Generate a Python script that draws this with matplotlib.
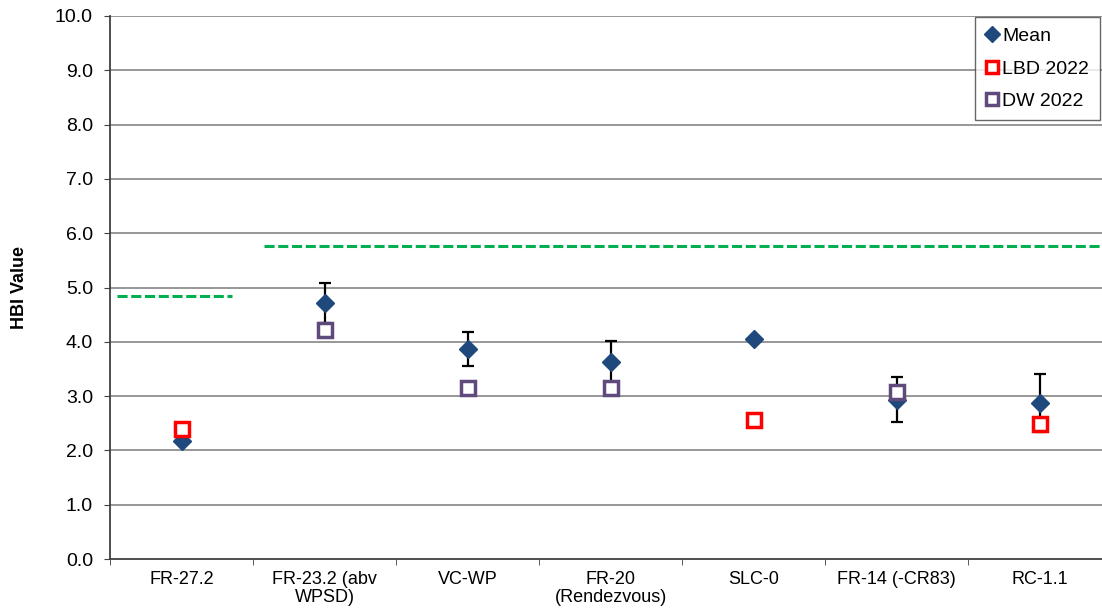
import matplotlib
matplotlib.use("Agg")
import matplotlib.pyplot as plt
import numpy as np

categories = ["FR-27.2", "FR-23.2 (abv\nWPSD)", "VC-WP", "FR-20\n(Rendezvous)", "SLC-0", "FR-14 (-CR83)", "RC-1.1"]
mean_vals = [2.17, 4.71, 3.87, 3.63, 4.05, 2.93, 2.87]
err_lo = [0.0, 0.37, 0.32, 0.38, 0.0, 0.41, 0.53]
err_hi = [0.0, 0.37, 0.31, 0.38, 0.0, 0.42, 0.54]
lbd_vals = [2.39, None, None, None, 2.56, None, 2.49]
dw_vals = [None, 4.22, 3.15, 3.15, None, 3.08, None]
thresh1 = 4.84  # FR-27.2 segment
thresh2 = 5.76  # rest
yticks = [0, 1, 2, 3, 4, 5, 6, 7, 8, 9, 10]

plt.rcParams['font.family'] = ['Liberation Sans', 'DejaVu Sans']

fig = plt.figure(figsize=(11.02, 6.13), dpi=100)
W, H = 1102, 613
ax = fig.add_axes([110 / W, 1 - 559 / H, (1111 - 110) / W, (559 - 16) / H])

x = np.arange(len(categories))
ax.set_xlim(-0.5, len(categories) - 0.5)
ax.set_ylim(0, 10)

for y in yticks[1:]:
    ax.axhline(y, color="#7a7a7a", lw=1.1, zorder=1)

# thresholds
ax.plot([-0.45, 0.35], [thresh1, thresh1], color="#00B050", lw=2.2, ls=(0, (3.3, 1.2)), zorder=2)
ax.plot([0.58, 6.5], [thresh2, thresh2], color="#00B050", lw=2.2, ls=(0, (3.3, 1.2)), zorder=2)

# error bars
has_err = [i for i in range(len(x)) if err_lo[i] > 0]
ax.errorbar(x[has_err], np.array(mean_vals)[has_err],
            yerr=[np.array(err_lo)[has_err], np.array(err_hi)[has_err]],
            fmt="none", ecolor="black", elinewidth=1.6, capsize=4.3, capthick=1.6, zorder=3)

ax.plot(x, mean_vals, ls="none", marker="D", ms=9, color="#1F497D", zorder=4, label="Mean")
lx = [i for i, v in enumerate(lbd_vals) if v is not None]
ax.plot(lx, [lbd_vals[i] for i in lx], ls="none", marker="s", ms=10, mfc="white",
        mec="#FF0000", mew=2.5, zorder=5, label="LBD 2022")
dx = [i for i, v in enumerate(dw_vals) if v is not None]
ax.plot(dx, [dw_vals[i] for i in dx], ls="none", marker="s", ms=10, mfc="white",
        mec="#604A7B", mew=2.5, zorder=5, label="DW 2022")

ax.set_yticks(yticks)
ax.set_yticklabels([f"{v:.1f}" for v in yticks], fontsize=14)
ax.set_xticks(x)
ax.set_xticklabels(categories, fontsize=13, linespacing=1.05)
ax.tick_params(axis="x", length=0, pad=9)
ax.set_xticks(np.arange(-0.5, len(categories), 1), minor=True)
ax.tick_params(axis="x", which="minor", length=4.3, direction="out", color="#404040")
ax.tick_params(axis="y", length=4.3, direction="out", color="#404040", pad=8)

for s in ["top", "right"]:
    ax.spines[s].set_visible(False)
ax.spines["left"].set_color("#404040")
ax.spines["bottom"].set_color("#404040")
ax.spines["left"].set_linewidth(1.3)
ax.spines["bottom"].set_linewidth(1.3)

ax.set_ylabel("HBI Value", fontsize=13, fontweight="bold")
ax.yaxis.set_label_coords((28 - 110) / 1001, 0.5)

leg = ax.legend(loc="upper right", bbox_to_anchor=((1100 - 110) / (1111 - 110), 1.0 - 1 / 543),
                fontsize=14, frameon=True, fancybox=False, edgecolor="#404040",
                handlelength=0.6, handletextpad=0.25, borderpad=0.55, labelspacing=0.75,
                markerscale=0.85, borderaxespad=0)
leg.get_frame().set_linewidth(1.0)

fig.savefig("out.png", dpi=100)
